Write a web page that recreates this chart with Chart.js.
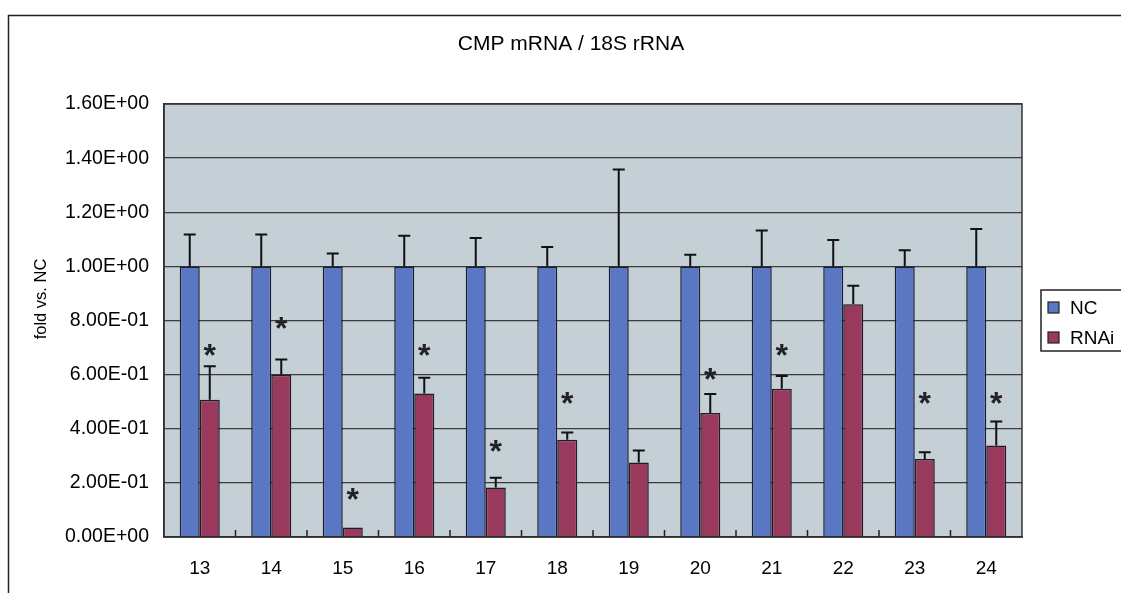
<!DOCTYPE html>
<html>
<head>
<meta charset="utf-8">
<script src="https://cdn.jsdelivr.net/npm/chart.js@4.4.1/dist/chart.umd.min.js"></script>
<style>
  html, body { margin: 0; padding: 0; background: #fff; }
  #wrap { width: 1121px; height: 593px; }
</style>
</head>
<body>
<div id="wrap"><canvas id="chart" width="1121" height="593"></canvas></div>
<script>
// values
const categories = ['13', '14', '15', '16', '17', '18', '19', '20', '21', '22', '23', '24'];
const ncValues   = [1, 1, 1, 1, 1, 1, 1, 1, 1, 1, 1, 1];
const rnaiValues = [0.507, 0.600, 0.035, 0.530, 0.183, 0.359, 0.275, 0.458, 0.548, 0.860, 0.288, 0.338];
// upper error (SD) for each bar
const ncErr   = [0.118, 0.118, 0.048, 0.113, 0.105, 0.072, 0.358, 0.043, 0.133, 0.097, 0.060, 0.138];
const rnaiErr = [0.124, 0.056, 0.000, 0.058, 0.036, 0.027, 0.045, 0.070, 0.047, 0.068, 0.025, 0.089];
// height of the significance star (null = none)
const stars = [0.689, 0.786, 0.155, 0.689, 0.334, 0.511, null, 0.600, 0.689, null, 0.511, 0.511];
const yTicks = [0, 0.2, 0.4, 0.6, 0.8, 1.0, 1.2, 1.4, 1.6];

const FONT = '"Liberation Sans", Arial, sans-serif';

function sci(v) {
    const parts = v.toExponential(2).split('e');
    const n = parseInt(parts[1], 10);
    return parts[0] + 'E' + (n < 0 ? '-' : '+') + String(Math.abs(n)).padStart(2, '0');
}

// frame, plot background, title, axis title and legend
const decorations = {
    id: 'decorations',
    beforeDraw(chart) {
        const ctx = chart.ctx;
        const a = chart.chartArea;
        ctx.save();
        ctx.strokeStyle = '#222';
        ctx.lineWidth = 1.5;
        ctx.strokeRect(8.5, 15.5, 1300, 700);
        ctx.fillStyle = '#c4cfd6';
        ctx.fillRect(a.left, a.top, a.right - a.left, a.bottom - a.top);
        ctx.restore();
    },
    afterDatasetsDraw(chart) {
        const ctx = chart.ctx;
        const a = chart.chartArea;
        const x = chart.scales.x;
        ctx.save();
        // plot border
        ctx.strokeStyle = '#333';
        ctx.lineWidth = 1.5;
        ctx.strokeRect(a.left, a.top, a.right - a.left, a.bottom - a.top);
        // small inward ticks between categories
        ctx.strokeStyle = '#222';
        for (let i = 0; i < categories.length - 1; i++) {
            const px = (x.getPixelForValue(i) + x.getPixelForValue(i + 1)) / 2;
            ctx.beginPath();
            ctx.moveTo(px, a.bottom);
            ctx.lineTo(px, a.bottom - 7);
            ctx.stroke();
        }

        // title
        ctx.fillStyle = '#000';
        ctx.font = '21px ' + FONT;
        ctx.textAlign = 'center';
        ctx.textBaseline = 'middle';
        ctx.fillText('CMP mRNA / 18S rRNA', 571, 44);

        // y axis title
        ctx.save();
        ctx.translate(41, 299);
        ctx.rotate(-Math.PI / 2);
        ctx.font = '16.5px ' + FONT;
        ctx.fillText('fold vs. NC', 0, 0);
        ctx.restore();

        // legend
        ctx.lineWidth = 1.5;
        ctx.strokeStyle = '#222';
        ctx.fillStyle = '#fff';
        ctx.fillRect(1041, 290, 120, 61);
        ctx.strokeRect(1041, 290, 120, 61);
        ctx.font = '19px ' + FONT;
        ctx.textAlign = 'left';
        ctx.textBaseline = 'alphabetic';
        chart.data.datasets.forEach((ds, i) => {
            const sy = 302 + i * 30;
            ctx.fillStyle = ds.backgroundColor;
            ctx.fillRect(1048, sy, 11, 11);
            ctx.lineWidth = 1.2;
            ctx.strokeRect(1048, sy, 11, 11);
            ctx.fillStyle = '#000';
            ctx.fillText(ds.label, 1070, sy + 12);
        });
        ctx.restore();
    }
};

// one-sided error bars and stars
const errorBars = {
    id: 'errorBars',
    afterDatasetsDraw(chart) {
        const ctx = chart.ctx;
        const y = chart.scales.y;
        const errs = [ncErr, rnaiErr];
        ctx.save();
        ctx.strokeStyle = '#111';
        ctx.lineWidth = 2;
        chart.data.datasets.forEach((ds, i) => {
            const meta = chart.getDatasetMeta(i);
            meta.data.forEach((bar, j) => {
                const e = errs[i][j];
                if (!e) return;
                const top = y.getPixelForValue(ds.data[j] + e);
                ctx.beginPath();
                ctx.moveTo(bar.x, bar.y);
                ctx.lineTo(bar.x, top);
                ctx.moveTo(bar.x - 6, top);
                ctx.lineTo(bar.x + 6, top);
                ctx.stroke();
            });
        });
        const rm = chart.getDatasetMeta(1);
        ctx.fillStyle = '#222';
        ctx.font = 'bold 32px ' + FONT;
        ctx.textAlign = 'center';
        ctx.textBaseline = 'alphabetic';
        stars.forEach((s, j) => {
            if (s == null) return;
            ctx.fillText('*', rm.data[j].x, y.getPixelForValue(s) + 15);
        });
        ctx.restore();
    }
};

new Chart(document.getElementById('chart'), {
    type: 'bar',
    data: {
        labels: categories,
        datasets: [{
            label: 'NC',
            data: ncValues,
            backgroundColor: '#5a77c4',
            borderColor: '#1c1c2c',
            borderWidth: 1.5,
            categoryPercentage: 0.56,
            barPercentage: 1.0
        }, {
            label: 'RNAi',
            data: rnaiValues,
            backgroundColor: '#993a5c',
            borderColor: '#1c1c2c',
            borderWidth: 1.5,
            categoryPercentage: 0.56,
            barPercentage: 1.0
        }]
    },
    options: {
        responsive: false,
        animation: false,
        devicePixelRatio: 1,
        layout: { padding: { top: 104, right: 99, left: 0, bottom: 0 } },
        plugins: {
            legend: { display: false },
            title: { display: false },
            tooltip: { enabled: false }
        },
        scales: {
            x: {
                afterFit(scale) { scale.height = 56; },
                grid: { display: false, drawTicks: false },
                border: { display: true, color: '#222', width: 1.5 },
                ticks: { color: '#000', padding: 20, font: { family: FONT, size: 19 } }
            },
            y: {
                min: 0,
                max: 1.6,
                afterFit(scale) { scale.width = 164; },
                afterBuildTicks(scale) { scale.ticks = yTicks.map(v => ({ value: v })); },
                grid: { color: '#3a3a3a', lineWidth: 1.3, drawTicks: false },
                border: { display: true, color: '#222', width: 1.5 },
                ticks: {
                    color: '#000',
                    padding: 15,
                    font: { family: FONT, size: 19.5 },
                    callback: v => sci(v)
                }
            }
        }
    },
    plugins: [decorations, errorBars]
});
</script>
</body>
</html>
